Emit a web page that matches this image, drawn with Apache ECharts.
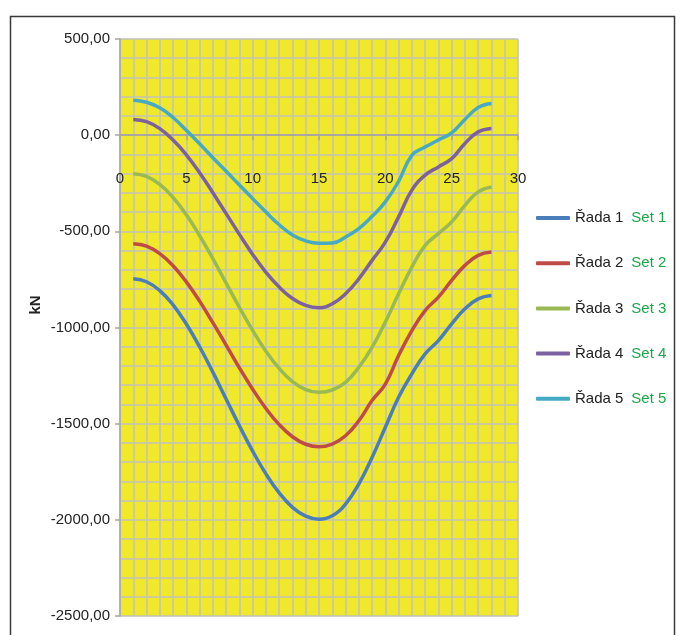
<!DOCTYPE html>
<html>
<head>
<meta charset="utf-8">
<script src="https://cdn.jsdelivr.net/npm/echarts@6/dist/echarts.min.js"></script>
<style>
html,body{margin:0;padding:0;background:#fff;}
#chart{width:680px;height:635px;}
</style>
</head>
<body>
<div id="chart"></div>
<script>
var xValues = [1,2,3,4,5,6,7,8,9,10,11,12,13,14,15,16,17,18,19,20,21,22,23,24,25,26,27,28];
var seriesNames = ['Řada 1','Řada 2','Řada 3','Řada 4','Řada 5'];
var setNames = ['Set 1','Set 2','Set 3','Set 4','Set 5'];
var rada1 = [-746,-762,-808,-882,-982,-1100,-1232,-1372,-1511,-1643,-1761,-1860,-1935,-1981,-1997,-1979,-1918,-1814,-1676,-1519,-1363,-1241,-1137,-1068,-981,-903,-851,-834];
var rada2 = [-564,-577,-616,-679,-763,-863,-975,-1092,-1210,-1321,-1421,-1505,-1568,-1607,-1620,-1606,-1563,-1485,-1380,-1294,-1146,-1016,-912,-842,-755,-677,-625,-608];
var rada3 = [-200,-214,-256,-324,-414,-522,-642,-769,-895,-1015,-1123,-1213,-1281,-1323,-1337,-1325,-1285,-1207,-1103,-972,-825,-686,-573,-512,-451,-365,-295,-269];
var rada4 = [82,70,34,-25,-102,-195,-299,-408,-516,-620,-713,-790,-849,-885,-897,-877,-825,-747,-651,-556,-425,-286,-208,-165,-122,-43,17,35];
var rada5 = [182,171,142,92,25,-45,-117,-188,-259,-330,-400,-466,-519,-550,-562,-561,-530,-486,-422,-347,-240,-105,-62,-25,12,82,144,165];
var colors = ['#4A7EBB','#BE4B48','#98B954','#7D60A0','#46AAC5'];
var allSeries = [rada1, rada2, rada3, rada4, rada5];

var FONT = '"Liberation Sans", Arial, sans-serif';
var chart = echarts.init(document.getElementById('chart'));

var GRID_TOP = 39, GRID_BOTTOM = 19, PLOT_H = 635 - GRID_TOP - GRID_BOTTOM;
var Y_MIN = -2500, Y_MAX = 500;
// x axis sits on the zero line: shift bottom axis up by the pixel distance from bottom to zero
var zeroOffset = -PLOT_H * (0 - Y_MIN) / (Y_MAX - Y_MIN);

var series = allSeries.map(function (arr, i) {
  return {
    name: seriesNames[i],
    type: 'line',
    smooth: 0.45,
    symbol: 'none',
    lineStyle: { color: colors[i], width: 3.5 },
    itemStyle: { color: colors[i] },
    data: xValues.map(function (x, k) { return [x, arr[k]]; }),
    z: 3
  };
});

chart.setOption({
  animation: false,
  backgroundColor: '#ffffff',
  textStyle: { fontFamily: FONT },
  grid: {
    left: 120, right: 162, top: GRID_TOP, bottom: GRID_BOTTOM,
    containLabel: false, outerBoundsMode: 'none',
    show: true, backgroundColor: '#F0E82A', borderWidth: 0
  },
  xAxis: {
    type: 'value', min: 0, max: 30, interval: 5,
    position: 'bottom', offset: zeroOffset,
    axisLine: { onZero: false, lineStyle: { color: '#A8A8A0', width: 2 } },
    axisTick: { show: true, length: 5, lineStyle: { color: '#A8A8A0', width: 1.5 } },
    axisLabel: { margin: 36, fontSize: 15, color: '#222', fontFamily: FONT },
    splitLine: { show: true, lineStyle: { color: '#C2C2BA', width: 1.5 } },
    minorTick: { show: false, splitNumber: 5 },
    minorSplitLine: { show: true, lineStyle: { color: '#C2C2BA', width: 1.5 } }
  },
  yAxis: {
    type: 'value', min: Y_MIN, max: Y_MAX, interval: 500,
    axisLine: { show: true, onZero: false, lineStyle: { color: '#A8A8A0', width: 1.5 } },
    axisTick: { show: true, length: 5, lineStyle: { color: '#A8A8A0', width: 1.5 } },
    axisLabel: {
      margin: 10, fontSize: 15, color: '#222', fontFamily: FONT,
      formatter: function (v) { return v.toFixed(2).replace('.', ','); }
    },
    splitLine: { show: true, lineStyle: { color: '#C2C2BA', width: 1.5 } },
    minorTick: { show: false, splitNumber: 5 },
    minorSplitLine: { show: true, lineStyle: { color: '#C2C2BA', width: 1.5 } }
  },
  legend: {
    orient: 'vertical',
    left: 531, top: 204,
    icon: 'roundRect',
    itemWidth: 34, itemHeight: 4,
    itemGap: 27.2,
    data: seriesNames,
    formatter: function (name) {
      var i = seriesNames.indexOf(name);
      return '{a|' + name + '}{b|' + setNames[i] + '}';
    },
    textStyle: {
      lineHeight: 18,
      rich: {
        a: { fontSize: 15, color: '#222', fontFamily: FONT, lineHeight: 18 },
        b: { fontSize: 15, color: '#1BA64B', fontFamily: FONT, lineHeight: 18, padding: [0, 0, 0, 8] }
      }
    }
  },
  graphic: [
    {
      type: 'rect', left: 8, top: 14, silent: true,
      shape: { width: 664, height: 640 },
      style: { fill: 'none', stroke: '#3a3a3a', lineWidth: 1.5 }
    },
    {
      type: 'text', x: 36, y: 305, rotation: Math.PI / 2, silent: true,
      style: { text: 'kN', font: 'bold 15px ' + FONT, fill: '#222', textAlign: 'center', textVerticalAlign: 'middle' }
    }
  ],
  series: series
});
</script>
</body>
</html>
